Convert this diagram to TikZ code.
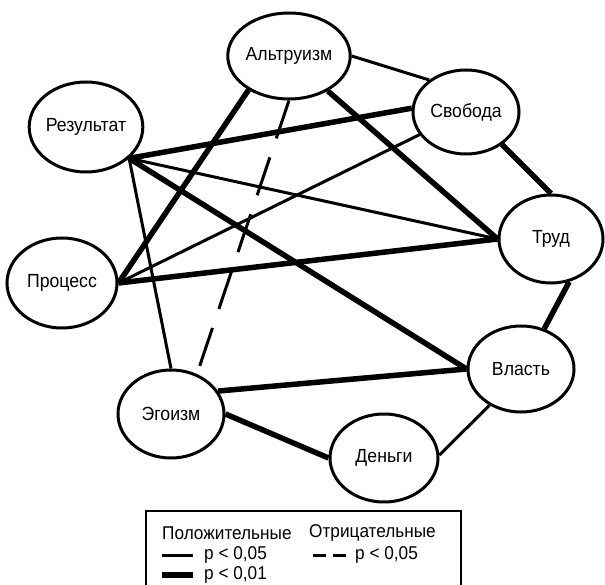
\documentclass[tikz,border=0pt]{standalone}
\usepackage{fontspec}
\setmainfont{Liberation Sans}
\newfontfamily\diagfont[FakeStretch=0.93]{Liberation Sans}
\usetikzlibrary{shapes.geometric}
\begin{document}
\begin{tikzpicture}[x=1pt,y=-1pt,
  concept/.style={ellipse,draw,line width=3pt,inner sep=0pt,font=\diagfont\fontsize{19}{22}\selectfont},
  thinlink/.style={line width=3pt},
  thicklink/.style={line width=5.5pt},
  neglink/.style={line width=3pt,dash pattern=on 40pt off 20pt},
  legtext/.style={anchor=west,inner sep=0pt,font=\diagfont\fontsize{18.5}{22}\selectfont}]
\useasboundingbox (0,0) rectangle (605,585);
\node[concept,minimum width=106pt,minimum height=86pt] (alt) at (289,56) {Альтруизм};
\node[concept,minimum width=106pt,minimum height=84pt] (svo) at (466,112) {Свобода};
\node[concept,minimum width=108pt,minimum height=90pt] (res) at (86,127) {Результат};
\node[concept,minimum width=104pt,minimum height=88pt] (trud) at (551,239) {Труд};
\node[concept,minimum width=110pt,minimum height=90pt] (proc) at (62,283) {Процесс};
\node[concept,minimum width=106pt,minimum height=86pt] (vlast) at (521,369) {Власть};
\node[concept,minimum width=106pt,minimum height=88pt] (ego) at (171,414) {Эгоизм};
\node[concept,minimum width=108pt,minimum height=88pt] (den) at (384,458) {Деньги};
% connectors
\draw[thinlink] (alt.0) -- (svo.139);
\draw[thicklink] (svo.-42) -- (trud.90);
\draw[thicklink] (trud.-67) -- (vlast.60);
\draw[thinlink] (vlast.229) -- (den.3);
\draw[thicklink] (den.180) -- (ego.0);
\draw[thicklink] (ego.26) -- (vlast.180);
\draw[thinlink] (res.-36) -- (ego.90);
\draw[neglink] (alt.-90) -- (ego.57);
\draw[thicklink] (alt.220) -- (proc.0);
\draw[thicklink] (alt.-42) -- (trud.180);
\draw[thicklink] (res.-36) -- (svo.176);
\draw[thinlink] (res.-36) -- (trud.180);
\draw[thicklink] (res.-36) -- (vlast.180);
\draw[thinlink] (proc.0) -- (svo.206);
\draw[thicklink] (proc.0) -- (trud.180);
% legend
\draw[line width=2pt] (146,590) -- (146,511) -- (461,511) -- (461,590);
\node[legtext] (lpos) at (162,533) {Положительные};
\node[legtext] (lneg) at (309,533) {Отрицательные};
\coordinate (l1a) at (162,555); \coordinate (l1b) at (193,555);
\draw[thinlink] (l1a) -- (l1b);
\node[legtext] (lp1) at (204,555) {p < 0,05};
\coordinate (l2a) at (313,555); \coordinate (l2b) at (346,555);
\draw[line width=3pt,dash pattern=on 13pt off 7pt] (l2a) -- (l2b);
\node[legtext] (lp2) at (355,555) {p < 0,05};
\coordinate (l3a) at (162,575); \coordinate (l3b) at (193,575);
\draw[thicklink] (l3a) -- (l3b);
\node[legtext] (lp3) at (204,575) {p < 0,01};
\end{tikzpicture}
\end{document}
